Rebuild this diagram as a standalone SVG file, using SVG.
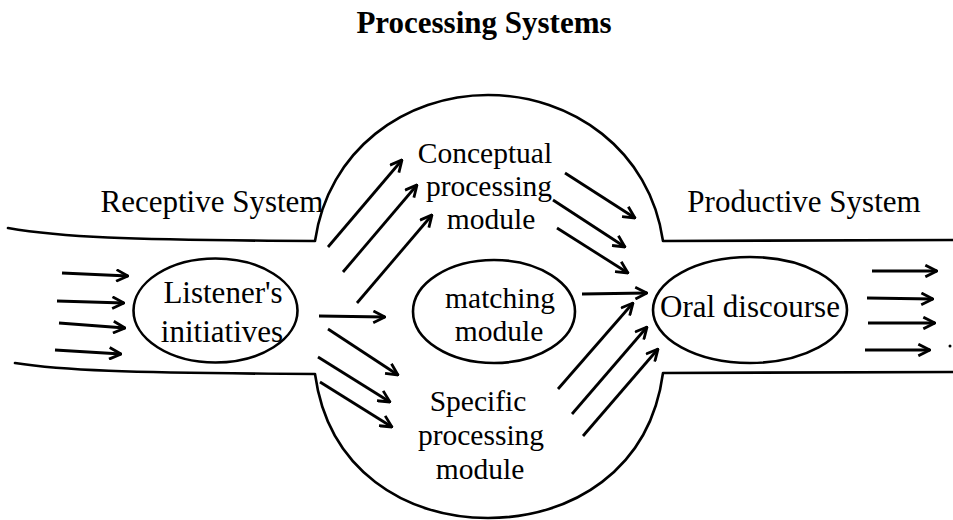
<svg xmlns="http://www.w3.org/2000/svg" width="953" height="520" viewBox="0 0 953 520">
<style>
.ln{fill:none;stroke:#000;stroke-width:2.6;stroke-linecap:round;stroke-linejoin:round}
.ar{fill:none;stroke:#000;stroke-width:2.8;marker-end:url(#ah)}
.t{font-family:"Liberation Serif","Times New Roman",serif;font-size:31px;fill:#000;text-anchor:middle}
.m{font-size:29.5px}
.title{font-family:"Liberation Serif","Times New Roman",serif;font-size:31px;font-weight:bold;fill:#000;text-anchor:middle}
</style>
<defs>
<marker id="ah" viewBox="0 0 12 12" refX="11" refY="6" markerWidth="14" markerHeight="14" markerUnits="userSpaceOnUse" orient="auto">
<path d="M1,1 L11,6 L1,11" fill="none" stroke="#000" stroke-width="2.4" stroke-linejoin="miter"/>
</marker>
</defs>
<rect width="953" height="520" fill="#fff"/>
<text class="title" x="484" y="33">Processing Systems</text>

<g id="pipe">
<path class="ln" d="M8,228 C60,237 120,240 315,241 C328,150 405,95 488,95 C572,95 650,150 663,241 L953,240"/>
<path class="ln" d="M15,363 C60,370 120,373 315,374 C328,470 405,518 488,518 C572,518 650,470 663,373 L953,372"/>
</g>

<g id="receptive-system"><text class="t" x="212" y="212">Receptive System</text></g>
<g id="productive-system"><text class="t" x="804" y="212">Productive System</text></g>

<g id="listeners-initiatives">
<ellipse class="ln" cx="215.5" cy="310.5" rx="82" ry="52"/>
<text class="t"><tspan x="223" y="303">Listener's</tspan><tspan x="222" y="342">initiatives</tspan></text>
</g>

<g id="conceptual-module">
<text class="t m"><tspan x="485" y="163">Conceptual</tspan><tspan x="489" y="196">processing</tspan><tspan x="491" y="229">module</tspan></text>
</g>

<g id="matching-module">
<ellipse class="ln" cx="494" cy="311.5" rx="81" ry="51.5"/>
<text class="t m"><tspan x="500" y="308">matching</tspan><tspan x="499" y="341">module</tspan></text>
</g>

<g id="specific-module">
<text class="t m"><tspan x="478" y="411">Specific</tspan><tspan x="481" y="445">processing</tspan><tspan x="480" y="479">module</tspan></text>
</g>

<g id="oral-discourse">
<ellipse class="ln" cx="750" cy="310" rx="97" ry="53"/>
<text class="t" x="750" y="317">Oral discourse</text>
</g>

<g id="connectors">
<line class="ar" x1="62" y1="273" x2="128" y2="276"/>
<line class="ar" x1="57" y1="301" x2="124" y2="303"/>
<line class="ar" x1="59" y1="323" x2="125" y2="328"/>
<line class="ar" x1="55" y1="350" x2="121" y2="354"/>

<line class="ar" x1="328" y1="247" x2="402" y2="160"/>
<line class="ar" x1="343" y1="272" x2="417" y2="185"/>
<line class="ar" x1="357" y1="303" x2="432" y2="215"/>
<line class="ar" x1="319" y1="316" x2="385" y2="317"/>
<line class="ar" x1="328" y1="329" x2="398" y2="375"/>
<line class="ar" x1="318" y1="357" x2="390" y2="402"/>
<line class="ar" x1="320" y1="382" x2="392" y2="427"/>

<line class="ar" x1="565" y1="173" x2="635" y2="218"/>
<line class="ar" x1="553" y1="200" x2="625" y2="247"/>
<line class="ar" x1="557" y1="228" x2="628" y2="273"/>
<line class="ar" x1="582" y1="294" x2="647" y2="293"/>
<line class="ar" x1="558" y1="389" x2="633" y2="303"/>
<line class="ar" x1="572" y1="414" x2="647" y2="327"/>
<line class="ar" x1="583" y1="436" x2="658" y2="349"/>

<line class="ar" x1="872" y1="271" x2="937" y2="271"/>
<line class="ar" x1="867" y1="298" x2="933" y2="299"/>
<line class="ar" x1="868" y1="323" x2="935" y2="323"/>
<line class="ar" x1="865" y1="350" x2="930" y2="350"/>
</g>
<circle cx="950" cy="346" r="1.5" fill="#000"/>
</svg>
